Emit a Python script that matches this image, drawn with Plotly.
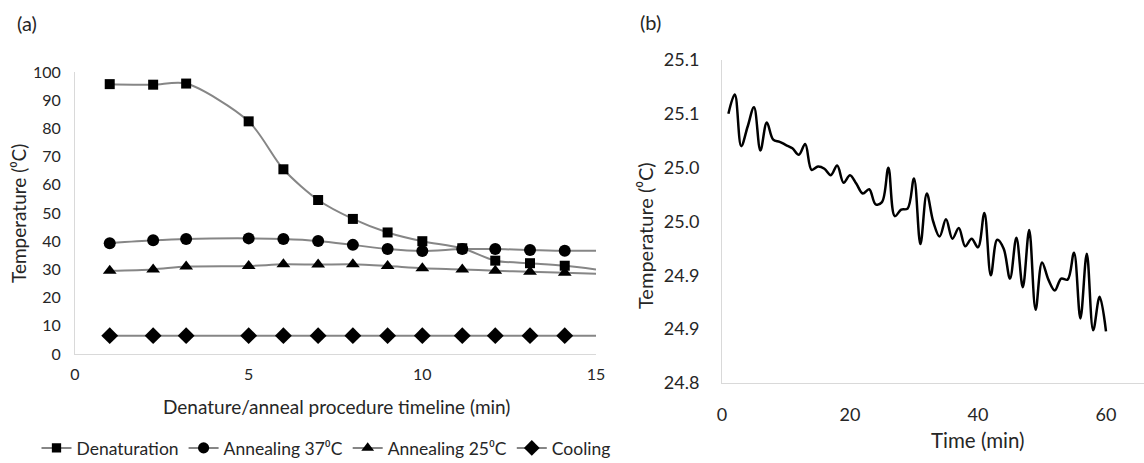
import plotly.graph_objects as go

# ---------- Panel (a) data ----------
time_a = [1, 2.25, 3.2, 5, 6, 7, 8, 9, 10, 11.15, 12.1, 13.1, 14.1, 15]
denaturation = [95.7, 95.5, 95.9, 82.5, 65.5, 54.6, 47.9, 43.1, 40.0, 37.5, 33.1, 32.2, 31.3, 30.0]
annealing37 = [39.3, 40.3, 40.8, 41.0, 40.8, 40.1, 38.7, 37.2, 36.5, 37.2, 37.2, 36.9, 36.6, 36.6]
annealing25 = [29.5, 30.0, 31.0, 31.2, 31.8, 31.7, 31.8, 31.2, 30.4, 30.0, 29.5, 29.2, 28.8, 28.5]
cooling = [6.5, 6.5, 6.5, 6.5, 6.5, 6.5, 6.5, 6.5, 6.5, 6.5, 6.5, 6.5, 6.5, 6.5]
series_names = ["Denaturation", "Annealing 37⁰C", "Annealing 25⁰C", "Cooling"]
ticks_a_x = [0, 5, 10, 15]
ticks_a_y = [0, 10, 20, 30, 40, 50, 60, 70, 80, 90, 100]

# ---------- Panel (b) data ----------
time_b = list(range(1, 61))
temp_b = [25.050, 25.068, 25.020, 25.038, 25.056, 25.016, 25.042, 25.026, 25.024, 25.021,
          25.018, 25.012, 25.022, 24.998, 25.001, 24.999, 24.993, 25.002, 24.986, 24.993,
          24.985, 24.976, 24.980, 24.966, 24.968, 25.000, 24.955, 24.961, 24.962, 24.990,
          24.929, 24.976, 24.950, 24.936, 24.952, 24.934, 24.944, 24.927, 24.934, 24.926,
          24.958, 24.900, 24.933, 24.925, 24.897, 24.935, 24.889, 24.942, 24.868, 24.912,
          24.896, 24.886, 24.897, 24.896, 24.921, 24.860, 24.920, 24.849, 24.880, 24.848]
ticks_b_x = [0, 20, 40, 60]
ticks_b_y = [24.80, 24.85, 24.90, 24.95, 25.00, 25.05, 25.10]
ticks_b_y_text = ["24.8", "24.9", "24.9", "25.0", "25.0", "25.1", "25.1"]

FONT = "Lato, 'Open Sans', sans-serif"
TXT = "#262626"
AX = "#d9d9d9"
W, H = 1144, 463

fig = go.Figure()

symbols = ["square", "circle", "triangle-up", "diamond"]
sizes = [10, 12, 12, 13]
for name, ys, sym, sz in zip(series_names, [denaturation, annealing37, annealing25, cooling], symbols, sizes):
    msize = [sz] * (len(ys) - 1) + [0]
    fig.add_trace(go.Scatter(
        x=time_a, y=ys, name=name, mode="lines+markers",
        line=dict(color="#868686", width=2, shape="spline", smoothing=0.8),
        marker=dict(symbol=sym, size=msize, color="black", opacity=1, line=dict(width=0)),
        xaxis="x", yaxis="y", cliponaxis=False,
    ))

fig.add_trace(go.Scatter(
    x=time_b, y=temp_b, mode="lines", showlegend=False,
    line=dict(color="black", width=2.5, shape="spline", smoothing=1),
    xaxis="x2", yaxis="y2",
))

def px_x(p):
    return p / W

def px_y(p):
    return (H - p) / H

fig.update_layout(
    width=W, height=H, autosize=False,
    margin=dict(l=0, r=0, t=0, b=0, pad=0, autoexpand=False),
    paper_bgcolor="white", plot_bgcolor="white",
    font=dict(family=FONT, color=TXT, size=16),
    xaxis=dict(domain=[px_x(75), px_x(596)], range=[0, 15], tickvals=ticks_a_x,
               showgrid=False, zeroline=False, showline=True, linecolor=AX, linewidth=1,
               ticks="", ticklabelstandoff=6, tickfont=dict(size=16, color=TXT),
               anchor="y", fixedrange=True, automargin=False),
    yaxis=dict(domain=[px_y(354), px_y(72)], range=[0, 100], tickvals=ticks_a_y,
               showgrid=False, zeroline=False, showline=True, linecolor=AX, linewidth=1,
               ticks="", ticklabelstandoff=10, tickfont=dict(size=16, color=TXT),
               anchor="x", fixedrange=True, automargin=False),
    xaxis2=dict(domain=[px_x(722), 1.0], range=[0, (W - 722) / 6.4], tickvals=ticks_b_x,
                showgrid=False, zeroline=False, showline=True, linecolor=AX, linewidth=1,
                ticks="", ticklabelstandoff=15, tickfont=dict(size=18, color=TXT),
                anchor="y2", fixedrange=True, automargin=False),
    yaxis2=dict(domain=[px_y(383), px_y(60)], range=[24.80, 25.10], tickvals=ticks_b_y,
                ticktext=ticks_b_y_text,
                showgrid=False, zeroline=False, showline=True, linecolor=AX, linewidth=1,
                ticks="", ticklabelstandoff=18, tickfont=dict(size=18, color=TXT),
                anchor="x2", fixedrange=True, automargin=False),
    legend=dict(orientation="h", x=px_x(326), xanchor="center", y=px_y(448), yanchor="middle",
                font=dict(size=17.5, color=TXT), itemwidth=30, tracegroupgap=0,
                bgcolor="rgba(0,0,0,0)"),
    showlegend=True,
)

annotations = [
    dict(text="(a)", x=px_x(27), y=px_y(23), font=dict(size=20)),
    dict(text="(b)", x=px_x(650), y=px_y(22), font=dict(size=20)),
    dict(text="Denature/anneal procedure timeline (min)", x=px_x(336), y=px_y(406), font=dict(size=19)),
    dict(text="Temperature (⁰C)", x=px_x(18), y=px_y(214), textangle=-90, font=dict(size=19)),
    dict(text="Time (min)", x=px_x(978), y=px_y(440), font=dict(size=20.5)),
    dict(text="Temperature (⁰C)", x=px_x(645), y=px_y(236), textangle=-90, font=dict(size=20)),
]
for a in annotations:
    fig.add_annotation(xref="paper", yref="paper", showarrow=False,
                       xanchor="center", yanchor="middle", **a)

fig.write_html("out.html", config={"displayModeBar": False},
               post_script="document.body.style.margin='0';document.body.style.overflow='hidden';")
